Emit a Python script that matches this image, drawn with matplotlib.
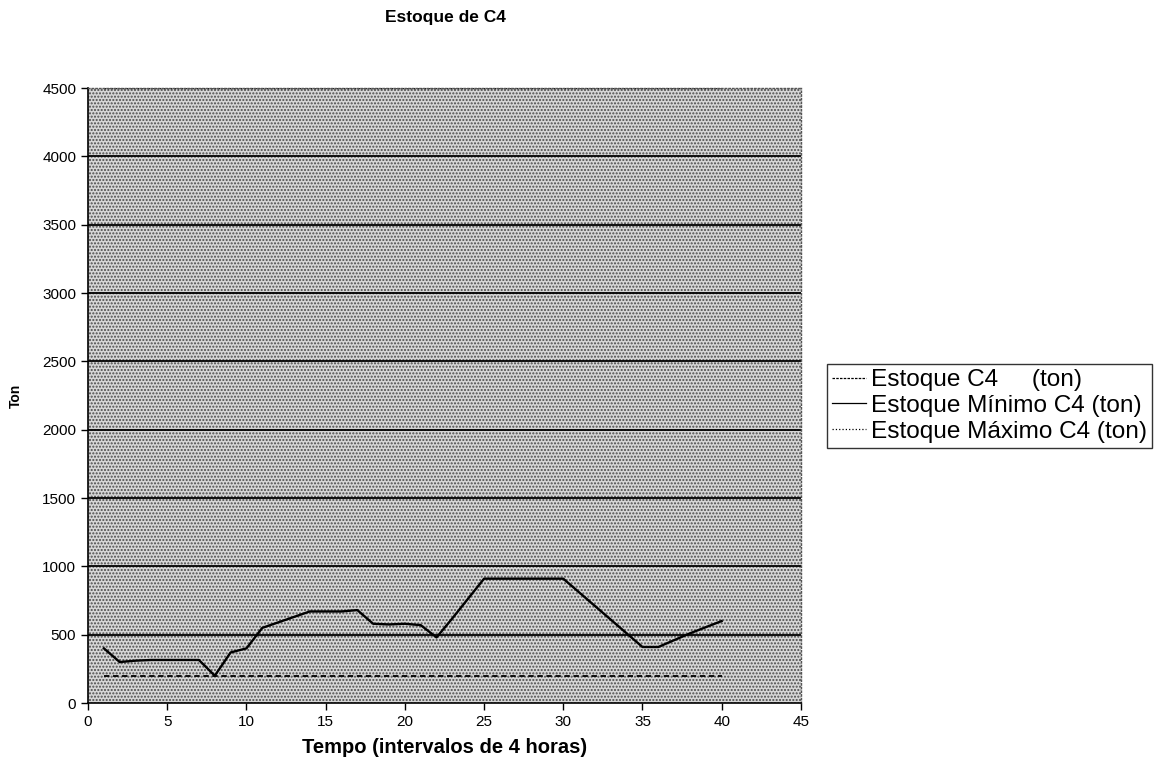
import matplotlib
matplotlib.use("Agg")
import matplotlib.pyplot as plt
from matplotlib.lines import Line2D
from matplotlib.patches import Rectangle

plt.rcParams['font.family'] = ['Liberation Sans', 'DejaVu Sans']
plt.rcParams['hatch.linewidth'] = 1.0

tempo = list(range(1, 41))
estoque_c4 = [400, 300, 310, 315, 315, 315, 315, 200, 370, 400,
              550, 590, 630, 670, 670, 670, 680, 580, 575, 580,
              570, 480, 620, 765, 910, 910, 910, 910, 910, 910,
              810, 710, 610, 510, 410, 410, 460, 510, 555, 600]
estoque_min = [200] * 40
estoque_max = [4500] * 40

legend_labels = ["Estoque C4     (ton)", "Estoque Mínimo C4 (ton)", "Estoque Máximo C4 (ton)"]

fig = plt.figure(figsize=(11.54, 7.77), dpi=100)
ax = fig.add_axes([0.0763, 0.0952, 0.6177, 0.7915])
ax.set_facecolor('#d6d6d6')
ax.add_patch(Rectangle((0, 0), 1, 1, transform=ax.transAxes, facecolor='none',
                       edgecolor='#4a4a4a', hatch='.....', linewidth=0, zorder=0))

for yv in range(500, 4500, 500):
    ax.axhline(yv, color='black', lw=1.3, zorder=1)

ax.plot(tempo, estoque_min, color='black', lw=1.3, ls=(0, (3, 2)), zorder=2)
ax.plot(tempo, estoque_max, color='black', lw=1.0, ls=':', zorder=2)
ax.plot(tempo, estoque_c4, color='black', lw=1.7, zorder=3)

ax.set_xlim(0, 45)
ax.set_ylim(0, 4500)
ax.set_xticks(range(0, 46, 5))
ax.set_yticks(range(0, 4501, 500))
ax.tick_params(axis='both', direction='out', length=5, width=1, labelsize=11, color='black')
for s in ['left', 'bottom']:
    ax.spines[s].set_color('black')
    ax.spines[s].set_linewidth(1.2)
for s in ['top', 'right']:
    ax.spines[s].set_color('#555555')
    ax.spines[s].set_linestyle(':')
    ax.spines[s].set_linewidth(1.0)

fig.text(0.386, 0.977, "Estoque de C4", ha='center', va='center', fontsize=12.5, fontweight='bold')
fig.text(0.0139, 0.49, "Ton", ha='center', va='center', rotation=90, fontsize=10, fontweight='bold')
fig.text(0.385, 0.038, "Tempo (intervalos de 4 horas)", ha='center', va='center', fontsize=14.5, fontweight='bold')

handles = [Line2D([], [], color='black', lw=0.9, ls=(0, (2, 1))),
           Line2D([], [], color='black', lw=0.9, ls='-'),
           Line2D([], [], color='black', lw=0.9, ls=':')]
leg = fig.legend(handles, legend_labels, loc='center left', bbox_to_anchor=(0.7166, 0.4775),
                 fontsize=17.6, frameon=True, fancybox=False, edgecolor='black',
                 handlelength=1.4, handletextpad=0.2, borderpad=0.2, labelspacing=0.15,
                 borderaxespad=0)
leg.get_frame().set_linewidth(1.0)

fig.savefig('out.png', dpi=100)
